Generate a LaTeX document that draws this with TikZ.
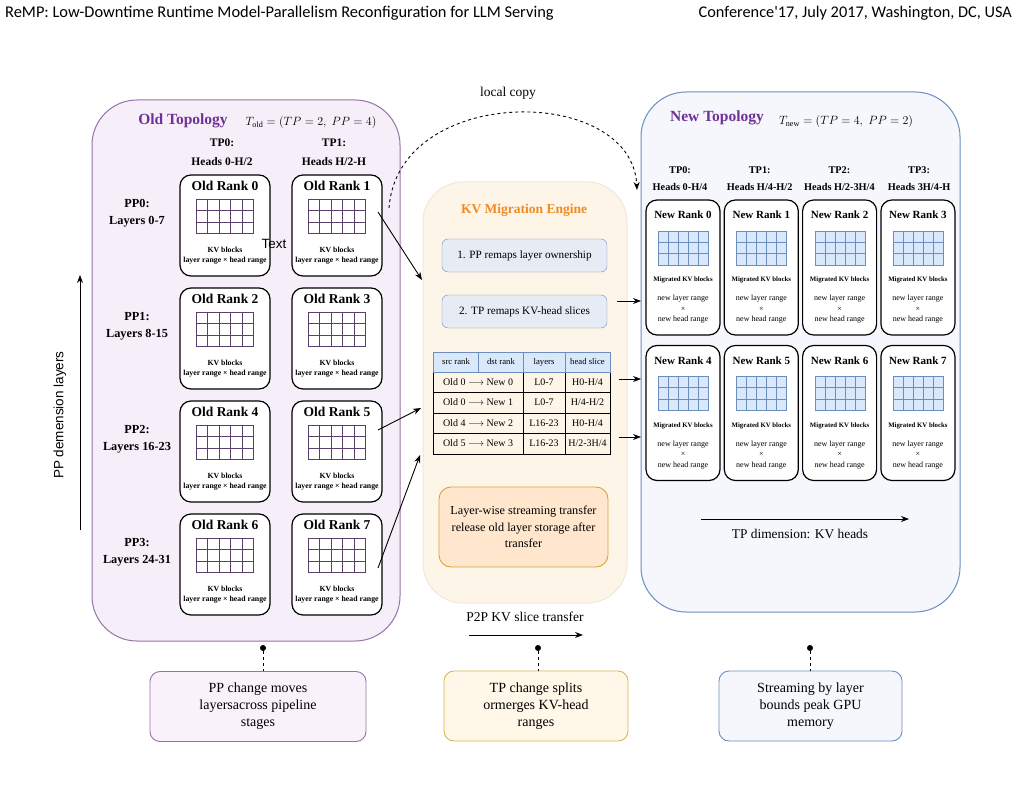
\documentclass[tikz,border=0pt]{standalone}
\usepackage{fontspec}
\setmainfont{Liberation Serif}
\setsansfont{Liberation Sans}
\newfontfamily\hdrfont{Carlito}
\usetikzlibrary{arrows.meta,positioning}
\definecolor{oldfill}{HTML}{F6EFF9}
\definecolor{oldline}{HTML}{9673A6}
\definecolor{oldgrid}{HTML}{5B3F6B}
\definecolor{titlepurple}{HTML}{6F3198}
\definecolor{engfill}{HTML}{FDF6E8}
\definecolor{engline}{HTML}{F0E8DA}
\definecolor{engorange}{HTML}{F08A24}
\definecolor{stepfill}{HTML}{E6EBF4}
\definecolor{blueline}{HTML}{6C8EBF}
\definecolor{bluefill}{HTML}{DAE8FC}
\definecolor{streamfill}{HTML}{FFE6CC}
\definecolor{streamline}{HTML}{D6A63C}
\definecolor{newfill}{HTML}{F5F7FD}
\definecolor{notepurple}{HTML}{F9F2FB}
\definecolor{noteyellow}{HTML}{FFF8E8}
\definecolor{noteline}{HTML}{D6B656}
\newcommand\fsz[2]{\fontsize{#1}{#2}\selectfont}
\tikzset{
  panel/.style={draw, line width=1pt, rounded corners=45pt},
  rankbox/.style={draw, line width=1.2pt, rounded corners=11pt, fill=white},
  ranktitle/.style={font=\fsz{13.5}{16}\bfseries},
  newtitle/.style={font=\fsz{11}{13}\bfseries},
  blocktxt/.style={font=\fsz{7.8}{9}\bfseries, inner sep=0pt},
  smalltxt/.style={font=\fsz{8}{9}, inner sep=0pt},
  hdr/.style={font=\fsz{11.5}{19}\bfseries, align=center},
  stepbox/.style={draw=blueline, fill=stepfill, rounded corners=6pt, minimum width=165pt, minimum height=33pt, font=\fsz{11.2}{13}},
  notebox/.style={draw, line width=0.9pt, rounded corners=10pt, minimum height=70pt, align=center, font=\fsz{14}{17}},
  conn/.style={-{Stealth[length=8pt,width=6pt]}, line width=0.9pt},
  celltxt/.style={font=\fsz{10}{12}, inner sep=0pt},
}
\begin{document}
\begin{tikzpicture}[x=1pt,y=-1pt]
\useasboundingbox[fill=white] (0,0) rectangle (1019,794);
\node[font=\hdrfont\fsz{16.4}{18}, anchor=west, inner sep=0pt] (hleft) at (5,13) {ReMP: Low-Downtime Runtime Model-Parallelism Reconfiguration for LLM Serving};
\node[font=\hdrfont\fsz{16.3}{18}, anchor=east, inner sep=0pt] (hright) at (1012,13) {Conference'17, July 2017, Washington, DC, USA};

% old topology
\node[panel, draw=oldline, fill=oldfill, minimum width=308pt, minimum height=541pt] (oldpanel) at (246,370.5) {};
\node[font=\fsz{15.5}{18}\bfseries, text=titlepurple] (oldtitle) at (183,121) {Old Topology};
\node[font=\fsz{11.6}{14}] (oldmath) at (311,123) {$T_{\mathrm{old}} = (TP = 2,\; PP = 4)$};
\node[hdr] (otp0) at (222,152.5) {TP0:\\Heads 0-H/2};
\node[hdr] (otp1) at (334,152.5) {TP1:\\Heads H/2-H};
\foreach \p/\l in {0/0-7,1/8-15,2/16-23,3/24-31}
  \node[font=\fsz{12.3}{17}\bfseries, align=center] (pp\p) at (137,213.5+113*\p) {PP\p:\\Layers \l};
\foreach \r in {0,...,7}{
  \pgfmathtruncatemacro\col{mod(\r,2)}
  \pgfmathtruncatemacro\row{div(\r,2)}
  \begin{scope}[shift={(225+112*\col,225.5+113*\row)}]
    \node[rankbox, minimum width=90pt, minimum height=101pt] (o\r) at (0,0) {};
    \node[ranktitle] (o\r t) at (0,-39.5) {Old Rank \r};
    \foreach \i in {0,...,4} \foreach \j in {0,...,2}
      \draw[oldgrid, line width=0.9pt] (-29+\i*11.5,-26.5+\j*11.5) rectangle ++(11.5,11.5);
    \node[blocktxt] (o\r k) at (0,24.5) {KV blocks};
    \node[blocktxt] (o\r r) at (0,35.5) {layer range × head range};
  \end{scope}}
\node[font=\sffamily\fsz{13.4}{15}] (stray) at (274,244) {Text};
\coordinate (pplo) at (80,530);
\coordinate (pphi) at (80,275);
\draw[conn] (pplo) -- (pphi);
\node[font=\sffamily\fsz{13.5}{15}, rotate=90] (pplabel) at (60,415) {PP demension layers};

% migration engine
\node[panel, draw=engline, fill=engfill, rounded corners=40pt, minimum width=204pt, minimum height=421pt] (engine) at (525,392.5) {};
\node[font=\fsz{13.5}{16}\bfseries, text=engorange] (engtitle) at (524,210) {KV Migration Engine};
\node[stepbox] (step1) at (524.5,255.5) {1. PP remaps layer ownership};
\node[stepbox] (step2) at (524.5,311.5) {2. TP remaps KV-head slices};
\draw[line width=0.9pt] (433,372) rectangle (610,454);
\foreach \y in {392,413,433} \draw[line width=0.9pt] (433,\y) -- (610,\y);
\foreach \x in {523,565} \draw[line width=0.9pt] (\x,352) -- (\x,454);
\draw[blueline, fill=bluefill, line width=0.9pt] (433,352) rectangle (610,372);
\foreach \x in {478.5,523,565} \draw[blueline, line width=0.9pt] (\x,352) -- (\x,372);
\foreach \x/\t [count=\c] in {456/src rank,501/dst rank,544/layers,587.5/head slice}
  \node[font=\fsz{8.7}{10}, inner sep=0pt] (th\c) at (\x,362) {\t};
\foreach \s/\d/\l/\h [count=\c] in {0/0/L0-7/{H0-H/4},0/1/L0-7/{H/4-H/2},4/2/L16-23/{H0-H/4},5/3/L16-23/{H/2-3H/4}}{
  \node[celltxt] (tm\c) at (478,361.5+20.5*\c) {Old \s\ $\longrightarrow$ New \d};
  \node[celltxt] (tl\c) at (544,361.5+20.5*\c) {\l};
  \node[celltxt] (ts\c) at (587.5,361.5+20.5*\c) {\h};}
\node[draw=streamline, fill=streamfill, line width=0.9pt, rounded corners=12pt, minimum width=169pt, minimum height=80pt, align=center, font=\fsz{12.2}{16.5}] (stream) at (523.5,527) {Layer-wise streaming transfer\\release old layer storage after\\transfer};
\node[font=\fsz{13.5}{16}] (p2p) at (525,617) {P2P KV slice transfer};
\coordinate (p2pa) at (469,635);
\coordinate (p2pb) at (583,635);
\draw[conn] (p2pa) -- (p2pb);

% new topology
\node[panel, draw=blueline, fill=newfill, minimum width=319pt, minimum height=520pt] (newpanel) at (800.5,352) {};
\node[font=\fsz{15.5}{18}\bfseries, text=titlepurple] (newtitle) at (717,118) {New Topology};
\node[font=\fsz{11.6}{14}] (newmath) at (846,122) {$T_{\mathrm{new}} = (TP = 4,\; PP = 2)$};
\foreach \t/\h [count=\c from 0] in {0/{0-H/4},1/{H/4-H/2},2/{H/2-3H/4},3/{3H/4-H}}
  \node[font=\fsz{10.3}{17}\bfseries, align=center] (ntp\c) at (680+79.7*\c,178.5) {TP\t:\\Heads \h};
\foreach \r in {0,...,7}{
  \pgfmathtruncatemacro\col{mod(\r,4)}
  \pgfmathtruncatemacro\row{div(\r,4)}
  \begin{scope}[shift={(683+78.3*\col,267.5+145.5*\row)}]
    \node[rankbox, minimum width=74pt, minimum height=135pt] (n\r) at (0,0) {};
    \node[newtitle] (n\r t) at (0,-52.5) {New Rank \r};
    \foreach \i in {0,...,4} \foreach \j in {0,...,2}
      \draw[blueline, fill=bluefill, line width=0.8pt] (-24.5+\i*10,-36.5+\j*11.3) rectangle ++(10,11.3);
    \node[font=\fsz{6.8}{8}\bfseries, inner sep=0pt] (n\r k) at (0,12.5) {Migrated KV blocks};
    \node[smalltxt] (n\r a) at (0,31.5) {new layer range};
    \node[smalltxt] (n\r x) at (0,41.5) {×};
    \node[smalltxt] (n\r b) at (0,52.5) {new head range};
  \end{scope}}
\coordinate (tpa) at (701,519);
\coordinate (tpb) at (909,519);
\draw[conn] (tpa) -- (tpb);
\node[font=\fsz{13.4}{16}] (tplabel) at (800,534) {TP dimension: KV heads};

% transfers
\coordinate (s1) at (378,212);  \coordinate (e1) at (422,280);
\coordinate (s5) at (378,430);  \coordinate (e5) at (421,408);
\coordinate (s7) at (378,568);  \coordinate (e7) at (420,455);
\foreach \k in {1,5,7} \draw[conn] (s\k) -- (e\k);
\coordinate (m1) at (617,301);  \coordinate (f1) at (641,301);
\coordinate (m2) at (619,379);  \coordinate (f2) at (641,379);
\coordinate (m3) at (619,437);  \coordinate (f3) at (641,437);
\foreach \k in {1,2,3} \draw[conn] (m\k) -- (f\k);
\coordinate (lc0) at (389,208);
\coordinate (lc1) at (637,190);
\draw[-{Stealth[length=8pt,width=6pt]}, dashed, line width=0.9pt] (lc0) .. controls (398,84) and (632,84) .. (lc1);
\node[font=\fsz{13.5}{16}] (lclabel) at (508,93) {local copy};

% notes
\node[notebox, draw=oldline, fill=notepurple, minimum width=216pt] (note1) at (258,706.5) {PP change moves\\layersacross pipeline\\stages};
\node[notebox, draw=noteline, fill=noteyellow, minimum width=184pt] (note2) at (536,706) {TP change splits\\ormerges KV-head\\ranges};
\node[notebox, draw=blueline, fill=newfill, minimum width=183pt] (note3) at (810.5,706) {Streaming by layer\\bounds peak GPU\\memory};
\foreach \k/\x in {1/263,2/538,3/810}{
  \node[circle, fill, inner sep=0pt, minimum size=6pt] (dot\k) at (\x,648) {};
  \draw[dashed, line width=0.8pt] (dot\k) -- (dot\k |- note\k.north);}
\end{tikzpicture}
\end{document}
